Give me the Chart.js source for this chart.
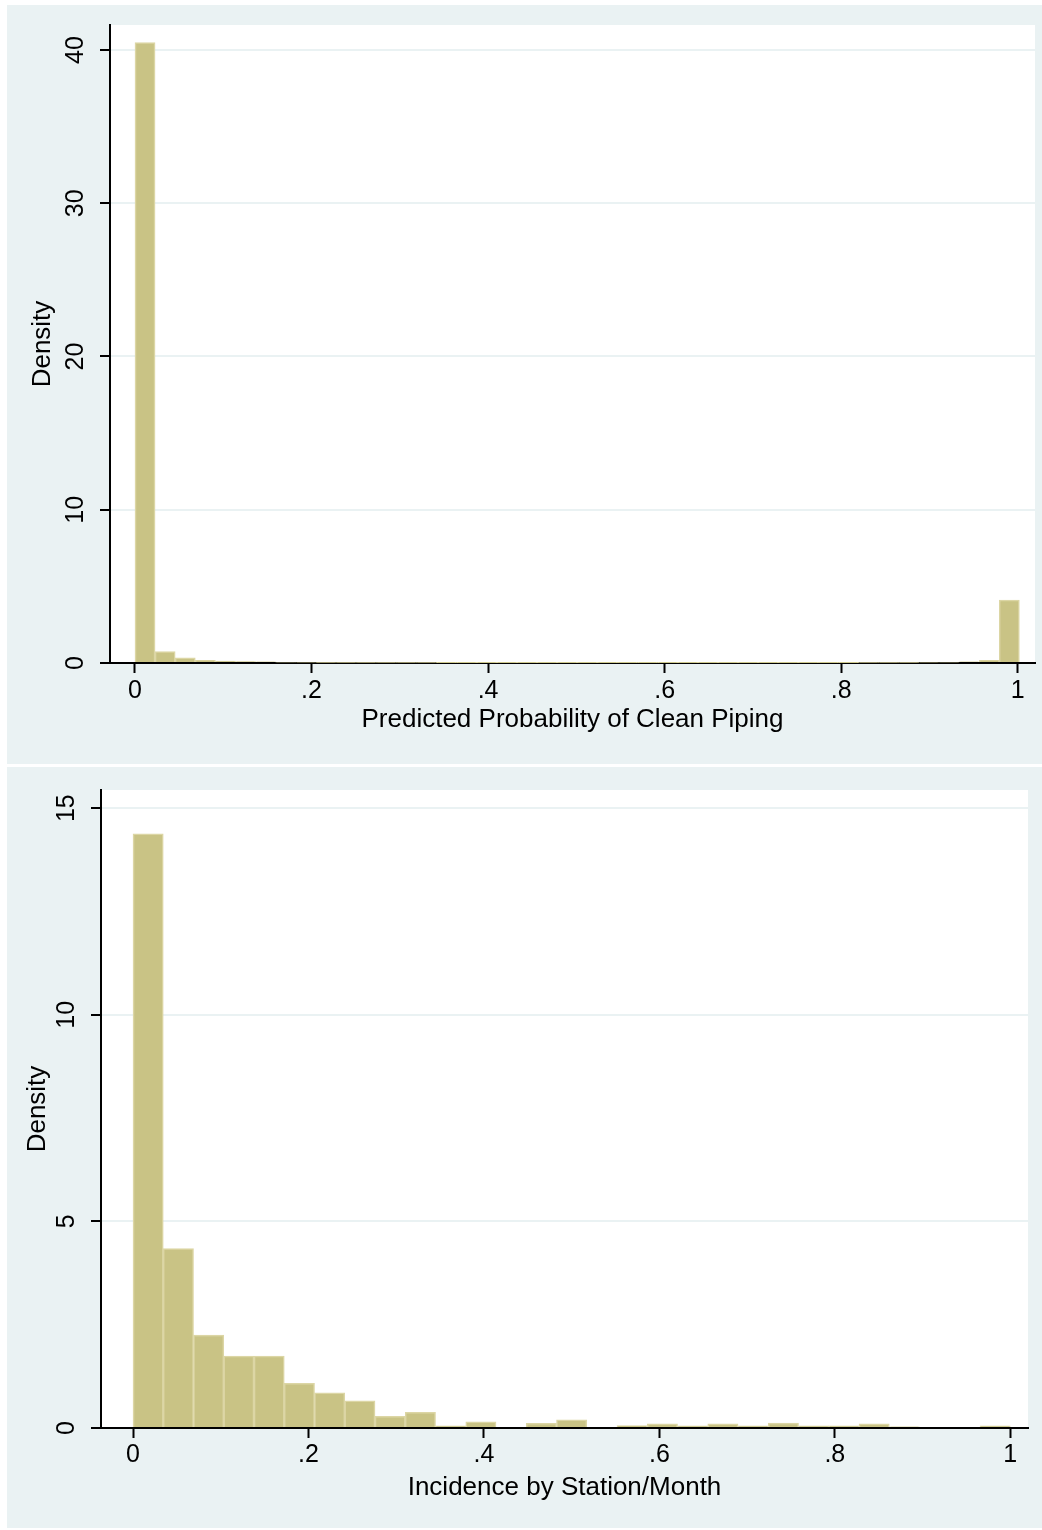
<!DOCTYPE html>
<html>
<head>
<meta charset="utf-8">
<title>Histograms</title>
<script src="https://cdn.jsdelivr.net/npm/chart.js@4.4.1/dist/chart.umd.min.js"></script>
<style>
  body { margin: 0; background: #ffffff; }
  .panel { position: absolute; background: #eaf2f3; }
  #p1 { left: 7px; top: 5px; width: 1035px; height: 759px; }
  #p2 { left: 7px; top: 767px; width: 1035px; height: 761px; }
</style>
</head>
<body>
<div class="panel" id="p1"><canvas id="chart1" width="1035" height="759"></canvas></div>
<div class="panel" id="p2"><canvas id="chart2" width="1035" height="761"></canvas></div>
<script>
// top histogram: predicted probability of clean piping (44 bins from 0)
var probBinStart = 0;
var probBinWidth = 0.02277;
var probDensity = [
  40.48, 0.75, 0.33, 0.18, 0.13, 0.1, 0.08, 0.06, 0.05, 0.04,
  0.035, 0.03, 0.03, 0.03, 0.03, 0.025, 0.025, 0.025, 0.025, 0.025,
  0.02, 0.02, 0.02, 0.02, 0.02, 0.02, 0.02, 0.02, 0.02, 0.02,
  0.02, 0.02, 0.02, 0.02, 0.025, 0.025, 0.03, 0.03, 0.04, 0.05,
  0.06, 0.08, 0.17, 4.1
];
var probXTicks = [0, 0.2, 0.4, 0.6, 0.8, 1];
var probXLabels = ['0', '.2', '.4', '.6', '.8', '1'];
var probYTicks = [0, 10, 20, 30, 40];
var probYLabels = ['0', '10', '20', '30', '40'];

// bottom histogram: incidence by station/month (29 bins from 0)
var incBinStart = 0;
var incBinWidth = 1 / 29;
var incDensity = [
  14.38, 4.34, 2.25, 1.74, 1.74, 1.08, 0.85, 0.66, 0.28, 0.38,
  0.05, 0.15, 0, 0.11, 0.2, 0, 0.06, 0.1, 0.05, 0.1,
  0.05, 0.12, 0.05, 0.05, 0.1, 0.03, 0, 0, 0.05
];
var incXTicks = [0, 0.2, 0.4, 0.6, 0.8, 1];
var incXLabels = ['0', '.2', '.4', '.6', '.8', '1'];
var incYTicks = [0, 5, 10, 15];
var incYLabels = ['0', '5', '10', '15'];

var barFill = '#c9c385';
var barLine = '#dcd6a5';
var bgColor = '#eaf2f3';
var fontFamily = '"Liberation Sans", Arial, Helvetica, sans-serif';

var plotArea = {
  id: 'plotArea',
  beforeDraw: function (chart) {
    var a = chart.chartArea, ctx = chart.ctx;
    ctx.save();
    ctx.fillStyle = '#ffffff';
    ctx.fillRect(a.left, a.top, a.right - a.left, a.bottom - a.top);
    ctx.restore();
  }
};

function bins(start, width, values) {
  return values.map(function (v, i) {
    return { x: start + (i + 0.5) * width, y: v };
  });
}

// fixed axis box sizes, no extra label padding
function fixBox(s, w, h) {
  if (w != null) s.width = w;
  if (h != null) s.height = h;
  s.paddingTop = 0; s.paddingBottom = 0; s.paddingLeft = 0; s.paddingRight = 0;
}

function makeHist(id, o) {
  var ctx = document.getElementById(id).getContext('2d');
  return new Chart(ctx, {
    type: 'bar',
    data: {
      datasets: [{
        data: bins(o.binStart, o.binWidth, o.values),
        backgroundColor: barFill,
        borderColor: barLine,
        borderWidth: 1.5,
        barPercentage: 1,
        categoryPercentage: 1
      }]
    },
    options: {
      responsive: false,
      animation: false,
      devicePixelRatio: 1,
      layout: { padding: { top: o.padTop, right: o.padRight, left: 0, bottom: 0 } },
      plugins: { legend: { display: false }, tooltip: { enabled: false } },
      scales: {
        x: {
          type: 'linear',
          offset: false,
          min: o.xMin, max: o.xMax,
          afterFit: function (s) { fixBox(s, null, o.xHeight); },
          afterBuildTicks: function (s) { s.ticks = o.xTicks.map(function (v) { return { value: v }; }); },
          ticks: {
            color: '#000',
            font: { family: fontFamily, size: 25 },
            padding: o.xTickPad,
            maxRotation: 0,
            autoSkip: false,
            callback: function (v) { return o.xLabels[o.xTicks.indexOf(v)]; }
          },
          grid: { offset: false, drawOnChartArea: false, drawTicks: true, tickLength: 10, tickColor: '#000', tickWidth: 2 },
          border: { display: true, color: '#000', width: 2 },
          title: {
            display: true, text: o.xTitle, color: '#000',
            font: { family: fontFamily, size: 26 },
            padding: { top: 0, bottom: o.xTitlePad }
          }
        },
        y: {
          type: 'linear',
          min: 0, max: o.yMax,
          afterFit: function (s) { fixBox(s, o.yWidth, null); },
          afterBuildTicks: function (s) { s.ticks = o.yTicks.map(function (v) { return { value: v }; }); },
          ticks: {
            color: '#000',
            font: { family: fontFamily, size: 25 },
            padding: 10,
            minRotation: 90, maxRotation: 90,
            crossAlign: 'center',
            autoSkip: false,
            callback: function (v) { return o.yLabels[o.yTicks.indexOf(v)]; }
          },
          grid: { color: bgColor, lineWidth: 2, drawTicks: true, tickLength: 10, tickColor: '#000', tickWidth: 2 },
          border: { display: true, color: '#000', width: 2 },
          title: {
            display: true, text: 'Density', color: '#000',
            font: { family: fontFamily, size: 26 },
            padding: { top: o.yTitlePad, bottom: 0 }
          }
        }
      }
    },
    plugins: [plotArea]
  });
}

makeHist('chart1', {
  binStart: probBinStart, binWidth: probBinWidth, values: probDensity,
  xTicks: probXTicks, xLabels: probXLabels, yTicks: probYTicks, yLabels: probYLabels,
  xMin: -0.0283, xMax: 1.0196, yMax: 41.63,
  padTop: 20, padRight: 7, yWidth: 103, xHeight: 101,
  xTickPad: 3, xTitlePad: 29, yTitlePad: 20,
  xTitle: 'Predicted Probability of Clean Piping'
});

makeHist('chart2', {
  binStart: incBinStart, binWidth: incBinWidth, values: incDensity,
  xTicks: incXTicks, xLabels: incXLabels, yTicks: incYTicks, yLabels: incYLabels,
  xMin: -0.0365, xMax: 1.0202, yMax: 15.44,
  padTop: 23, padRight: 14, yWidth: 94, xHeight: 100,
  xTickPad: 2, xTitlePad: 25, yTitlePad: 15,
  xTitle: 'Incidence by Station/Month'
});
</script>
</body>
</html>
